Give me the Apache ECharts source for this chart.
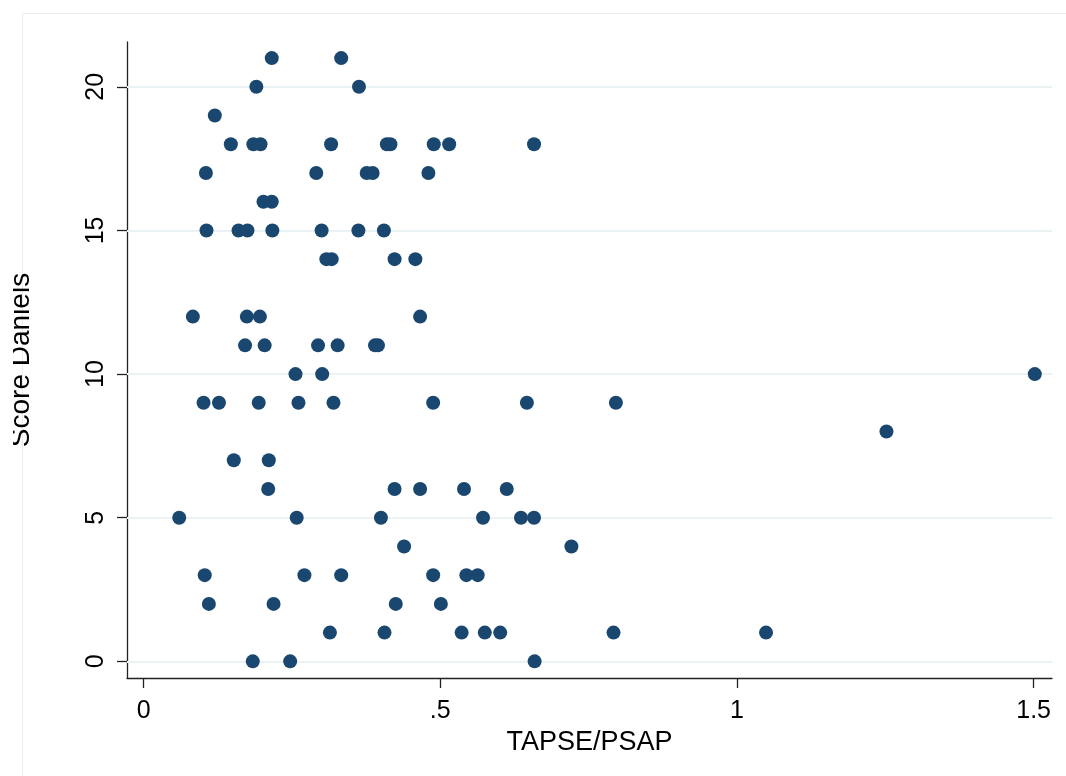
<!DOCTYPE html>
<html>
<head>
<meta charset="utf-8">
<script src="https://cdn.jsdelivr.net/npm/echarts@6/dist/echarts.min.js"></script>
<style>
html,body{margin:0;padding:0;background:#fff;width:1066px;height:776px;overflow:hidden;}
#chart{position:absolute;left:13px;top:0;width:1053px;height:776px;}
</style>
</head>
<body>
<div id="chart"></div>
<script>
// TAPSE/PSAP values (x) and Score Daniels (y)
const tapsePsap = [
  0.216, 0.333,
  0.190, 0.363,
  0.120,
  0.147, 0.185, 0.197, 0.316, 0.410, 0.416, 0.489, 0.515, 0.658,
  0.105, 0.291, 0.376, 0.386, 0.480,
  0.202, 0.216,
  0.106, 0.160, 0.175, 0.217, 0.300, 0.362, 0.405,
  0.308, 0.317, 0.423, 0.458,
  0.083, 0.174, 0.196, 0.466,
  0.171, 0.204, 0.294, 0.327, 0.390, 0.395,
  0.256, 0.301, 1.502,
  0.101, 0.127, 0.194, 0.261, 0.320, 0.488, 0.646, 0.796,
  1.252,
  0.152, 0.211,
  0.210, 0.423, 0.466, 0.540, 0.612,
  0.060, 0.258, 0.400, 0.572, 0.636, 0.658,
  0.439, 0.721,
  0.103, 0.271, 0.333, 0.488, 0.544, 0.563,
  0.110, 0.219, 0.425, 0.501,
  0.314, 0.406, 0.536, 0.575, 0.601, 0.792, 1.049,
  0.184, 0.247, 0.659
];
const scoreDaniels = [
  21, 21,
  20, 20,
  19,
  18, 18, 18, 18, 18, 18, 18, 18, 18,
  17, 17, 17, 17, 17,
  16, 16,
  15, 15, 15, 15, 15, 15, 15,
  14, 14, 14, 14,
  12, 12, 12, 12,
  11, 11, 11, 11, 11, 11,
  10, 10, 10,
  9, 9, 9, 9, 9, 9, 9, 9,
  8,
  7, 7,
  6, 6, 6, 6, 6,
  5, 5, 5, 5, 5, 5,
  4, 4,
  3, 3, 3, 3, 3, 3,
  2, 2, 2, 2,
  1, 1, 1, 1, 1, 1, 1,
  0, 0, 0
];
const xTicks = [0, 0.5, 1, 1.5];
const xTickLabels = ['0', '.5', '1', '1.5'];
const yTicks = [0, 5, 10, 15, 20];
const yTickLabels = ['0', '5', '10', '15', '20'];
const xTitle = 'TAPSE/PSAP';
const yTitle = 'Score Daniels';

const points = tapsePsap.map((x, i) => [x, scoreDaniels[i]]);
const FONT = '"Liberation Sans", Arial, sans-serif';
const AXIS_COLOR = '#222';

const chart = echarts.init(document.getElementById('chart'), null, {renderer: 'canvas'});
chart.setOption({
  animation: false,
  backgroundColor: '#ffffff',
  graphic: [{
    type: 'rect',
    silent: true,
    z: -10,
    shape: {x: 9.5, y: 13.5, width: 1100, height: 800},
    style: {fill: 'none', stroke: '#e6eef1', lineWidth: 1}
  }],
  grid: {left: 114, right: 14, top: 42, bottom: 98, containLabel: false, outerBoundsMode: 'none'},
  xAxis: {
    type: 'value',
    min: -0.028,
    max: 1.531,
    name: xTitle,
    nameLocation: 'middle',
    nameGap: 33,
    nameTextStyle: {fontFamily: FONT, fontSize: 27, color: '#000'},
    axisLine: {show: true, onZero: false, lineStyle: {color: AXIS_COLOR, width: 1.3}},
    axisTick: {show: true, length: 10, customValues: xTicks, lineStyle: {color: AXIS_COLOR, width: 1.3}},
    axisLabel: {
      customValues: xTicks,
      margin: 21,
      fontFamily: FONT, fontSize: 25, color: '#000',
      formatter: v => { const i = xTicks.indexOf(v); return i >= 0 ? xTickLabels[i] : ''; }
    },
    splitLine: {show: false}
  },
  yAxis: {
    type: 'value',
    min: -0.58,
    max: 21.56,
    name: yTitle,
    nameLocation: 'middle',
    nameGap: 92,
    nameRotate: 90,
    nameTextStyle: {fontFamily: FONT, fontSize: 28, color: '#000'},
    axisLine: {show: true, onZero: false, lineStyle: {color: AXIS_COLOR, width: 1.3}},
    axisTick: {show: true, length: 10, customValues: yTicks, lineStyle: {color: AXIS_COLOR, width: 1.3}},
    axisLabel: {
      customValues: yTicks,
      rotate: 90,
      margin: 18,
      fontFamily: FONT, fontSize: 25, color: '#000',
      formatter: v => { const i = yTicks.indexOf(v); return i >= 0 ? yTickLabels[i] : ''; }
    },
    splitLine: {show: false}
  },
  series: [{
    type: 'scatter',
    data: points,
    symbol: 'circle',
    symbolSize: 14,
    itemStyle: {color: '#1a476f', opacity: 1},
    z: 5,
    markLine: {
      silent: true,
      symbol: ['none', 'none'],
      label: {show: false},
      z: 1,
      lineStyle: {color: '#eaf2f3', width: 2, type: 'solid'},
      data: yTicks.map(v => ({yAxis: v}))
    }
  }]
});
</script>
</body>
</html>
